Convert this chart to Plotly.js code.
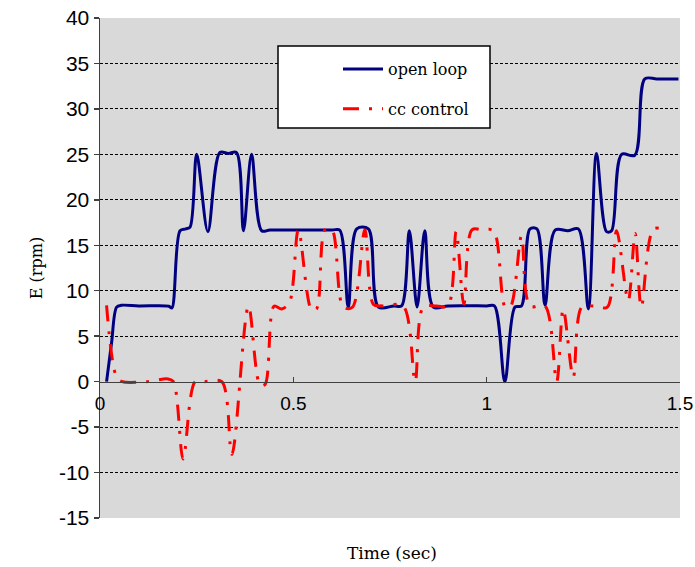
<!DOCTYPE html>
<html>
<head>
<meta charset="utf-8">
<script src="https://cdn.plot.ly/plotly-3.0.1.min.js"></script>
<style>html,body{margin:0;padding:0;background:#fff;}#chart{width:695px;height:567px;}</style>
</head>
<body>
<div id="chart"></div>
<script>
// ---- data ----
var seriesNames = ['open loop', 'cc control'];

var openLoopT = [0.017, 0.030, 0.043, 0.055, 0.10, 0.178, 0.186, 0.207, 0.222, 0.233, 0.250, 0.279, 0.310, 0.332, 0.353, 0.371, 0.392, 0.418, 0.440,
  0.600, 0.620, 0.642, 0.664, 0.694, 0.720, 0.760, 0.780, 0.800, 0.820, 0.840, 0.862, 0.900,
  1.000, 1.020, 1.047, 1.073, 1.090, 1.112, 1.130, 1.151, 1.177, 1.210, 1.237, 1.263, 1.284, 1.310, 1.323, 1.349, 1.383, 1.409, 1.440, 1.496];
var openLoopE = [0, 4.3, 8.2, 8.4, 8.33, 8.3, 8.1, 16.6, 16.8, 17.0, 25.0, 16.5, 25.2, 25.1, 25.2, 16.6, 25.0, 16.6, 16.67,
  16.67, 16.67, 8.2, 16.8, 16.8, 8.2, 8.33, 8.33, 16.6, 8.2, 16.6, 8.2, 8.33,
  8.33, 8.33, 0, 8.2, 8.33, 16.8, 16.8, 8.4, 16.67, 16.6, 16.8, 8.0, 25.1, 16.5, 16.6, 25.0, 24.9, 33.3, 33.3, 33.3];

var ccT = [0.017, 0.043, 0.058, 0.120, 0.176, 0.190, 0.215, 0.246, 0.270, 0.315, 0.341, 0.384, 0.414, 0.427, 0.450, 0.470, 0.490,
  0.513, 0.547, 0.560, 0.582, 0.600, 0.629, 0.653, 0.685, 0.707, 0.730, 0.784, 0.815, 0.836, 0.870, 0.900,
  0.921, 0.941, 0.962, 0.990, 1.018, 1.048, 1.062, 1.090, 1.112, 1.151, 1.181, 1.198, 1.224, 1.246, 1.280, 1.312,
  1.336, 1.366, 1.384, 1.400, 1.432, 1.465];
var ccE = [8.4, 0.5, 0, 0, 0.3, 0, -8.5, 0, 0, 0, -8.0, 8.3, -0.4, -0.3, 8.3, 8.0, 8.7,
  16.7, 7.9, 8.0, 16.7, 16.7, 8.2, 8.2, 16.7, 8.5, 8.33, 8.33, 0, 8.2, 8.33, 8.33,
  16.5, 8.5, 16.7, 16.7, 16.6, 8.2, 8.3, 16.0, 8.3, 8.33, 0, 8.0, 0.5, 8.2, 8.3, 8.2,
  16.6, 8.9, 16.3, 8.2, 16.8, 16.6];

var xTickVals = [0, 0.5, 1, 1.5];
var xTickText = ['0', '0.5', '1', '1.5'];
var yTickVals = [-15, -10, -5, 0, 5, 10, 15, 20, 25, 30, 35, 40];
var yTickText = ['-15', '-10', '-5', '0', '5', '10', '15', '20', '25', '30', '35', '40'];
var yGridVals = [-10, -5, 5, 10, 15, 20, 25, 30, 35];

var xRange = [0, 1.5];
var yRange = [-15, 40];

var traces = [
  {x: openLoopT, y: openLoopE, name: seriesNames[0], type: 'scatter', mode: 'lines',
   line: {color: '#000080', width: 3, shape: 'spline', smoothing: 0.9}, legendgroup: 'a'},
  {x: ccT, y: ccE, name: seriesNames[1], type: 'scatter', mode: 'lines',
   line: {color: '#FF0000', width: 3, shape: 'spline', smoothing: 0.9, dash: '16px,10px,3px,10px'}, legendgroup: 'b'},
  {x: [], y: [], yaxis: 'y2', showlegend: false, hoverinfo: 'skip'}
];

var serif = 'DejaVu Serif, serif';
var sans = 'Liberation Sans, Arial, sans-serif';

var layout = {
  width: 695, height: 567,
  margin: {l: 100, r: 15, t: 18, b: 49, pad: 0},
  paper_bgcolor: '#ffffff',
  plot_bgcolor: '#D9D9D9',
  showlegend: true,
  xaxis: {
    range: xRange, tickmode: 'array', tickvals: xTickVals, ticktext: xTickText,
    showgrid: false, zeroline: false, showline: true, linecolor: '#404040', linewidth: 1.5,
    ticks: 'inside', ticklen: 5, tickwidth: 1.5, tickcolor: '#404040',
    anchor: 'free', position: (0 - yRange[0]) / (yRange[1] - yRange[0]),
    tickfont: {family: sans, size: 19, color: '#000'}, ticklabelstandoff: 4
  },
  yaxis: {
    range: yRange, tickmode: 'array', tickvals: yTickVals, ticktext: yTickText,
    showgrid: false, zeroline: false, showline: true, linecolor: '#404040', linewidth: 1.5,
    ticks: 'outside', ticklen: 5, tickwidth: 1.5, tickcolor: '#404040',
    tickfont: {family: sans, size: 21, color: '#000'},
    title: {text: 'E (rpm)', font: {family: serif, size: 16, color: '#000'}, standoff: 12}
  },
  yaxis2: {
    range: yRange, overlaying: 'y', anchor: 'x', side: 'left', tickmode: 'array', tickvals: yGridVals,
    showgrid: true, gridcolor: '#000000', gridwidth: 1, griddash: '3px,2px',
    showticklabels: false, ticks: '', showline: false, zeroline: false
  },
  legend: {
    x: (338 - 100) / 580, y: (518 - 52) / 500, xanchor: 'left', yanchor: 'top',
    bgcolor: 'rgba(0,0,0,0)', borderwidth: 0,
    font: {family: serif, size: 16, color: '#000'},
    traceorder: 'grouped', tracegroupgap: 16, itemwidth: 40
  },
  shapes: [{
    type: 'rect', xref: 'paper', yref: 'paper', layer: 'above',
    x0: (278 - 100) / 580, x1: (490 - 100) / 580, y0: (518 - 128) / 500, y1: (518 - 46) / 500,
    fillcolor: '#ffffff', line: {color: '#000000', width: 1.5}
  }],
  annotations: [{
    text: 'Time (sec)', xref: 'paper', yref: 'paper', x: (392 - 100) / 580, y: (518 - 553) / 500,
    xanchor: 'center', yanchor: 'middle', showarrow: false,
    font: {family: serif, size: 17, color: '#000'}
  }]
};

Plotly.newPlot('chart', traces, layout, {displayModeBar: false, staticPlot: true});
</script>
</body>
</html>
